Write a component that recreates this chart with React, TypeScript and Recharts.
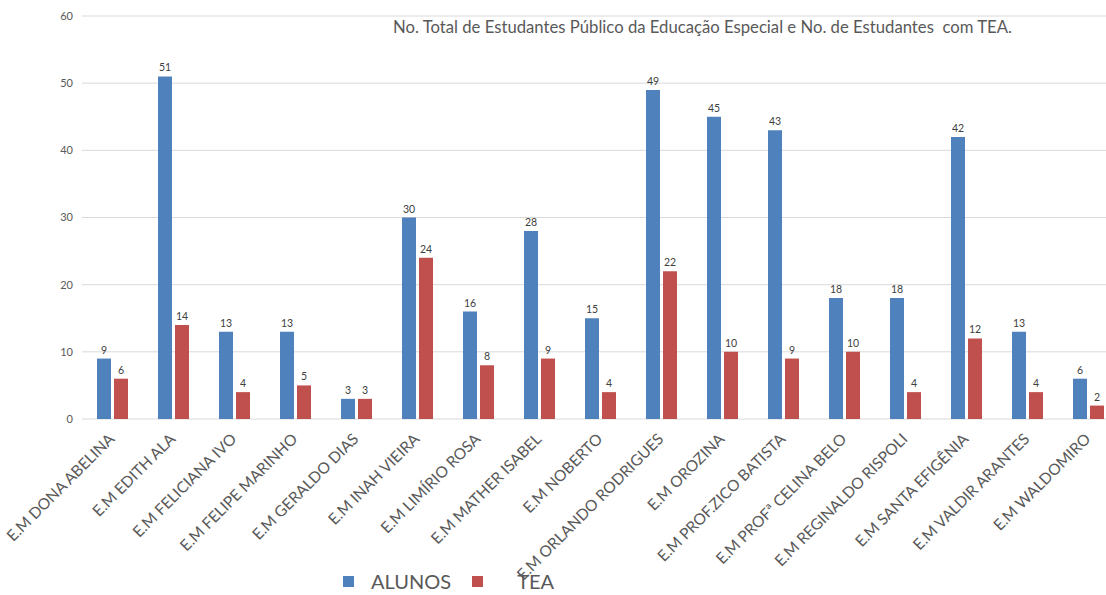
import React from 'react';
import { BarChart, Bar, XAxis, YAxis, CartesianGrid, LabelList } from 'recharts';

const schools = [
  'E.M DONA ABELINA',
  'E.M EDITH ALA',
  'E.M FELICIANA IVO',
  'E.M FELIPE MARINHO',
  'E.M GERALDO DIAS',
  'E.M INAH VIEIRA',
  'E.M LIMÍRIO ROSA',
  'E.M MATHER ISABEL',
  'E.M NOBERTO',
  'E.M ORLANDO RODRIGUES',
  'E.M OROZINA',
  'E.M PROF.ZICO BATISTA',
  'E.M PROFª CELINA BELO',
  'E.M REGINALDO RISPOLI',
  'E.M SANTA EFIGÊNIA',
  'E.M VALDIR ARANTES',
  'E.M WALDOMIRO',
];
const alunos = [9, 51, 13, 13, 3, 30, 16, 28, 15, 49, 45, 43, 18, 18, 42, 13, 6];
const tea = [6, 14, 4, 5, 3, 24, 8, 9, 4, 22, 10, 9, 10, 4, 12, 4, 2];
const yTicks = [0, 10, 20, 30, 40, 50, 60];

const series = [
  { key: 'alunos', name: 'ALUNOS', color: '#4f81bd' },
  { key: 'tea', name: 'TEA', color: '#c0504d' },
];

const data = schools.map((name, i) => ({ name, alunos: alunos[i], tea: tea[i] }));

const FONT = 'Lato, "Open Sans", sans-serif';

const SchoolTick = (props: any) => {
  const { x, y, payload } = props;
  return (
    <g transform={`translate(${x + 3},${y + 13})`}>
      <text transform="rotate(-45)" textAnchor="end" fill="#595959" fontSize={15.5} fontFamily={FONT}>
        {payload.value}
      </text>
    </g>
  );
};

export default function App() {
  return (
    <div style={{ position: 'absolute', left: 0, top: 0, width: 1106, height: 595, overflow: 'hidden', background: '#fff' }}>
      <BarChart
        width={1130}
        height={595}
        data={data}
        margin={{ top: 16, right: 11, left: 0, bottom: 0 }}
        barCategoryGap={15}
        barGap={3}
      >
        <CartesianGrid vertical={false} stroke="#d9d9d9" />
        <YAxis
          width={82}
          domain={[0, 60]}
          ticks={yTicks}
          axisLine={false}
          tickLine={false}
          tickSize={6}
          tickMargin={3}
          tick={{ fill: '#595959', fontSize: 11, fontFamily: FONT }}
        />
        <XAxis dataKey="name" interval={0} height={176} axisLine={false} tickLine={false} tick={<SchoolTick />} />
        {series.map((s) => (
          <Bar key={s.key} dataKey={s.key} name={s.name} fill={s.color} barSize={14} isAnimationActive={false}>
            <LabelList dataKey={s.key} position="top" offset={5} fill="#404040" fontSize={10.5} fontFamily={FONT} />
          </Bar>
        ))}
      </BarChart>
      <div
        style={{
          position: 'absolute',
          left: 393,
          top: 17,
          fontFamily: FONT,
          fontSize: 16.7,
          color: '#595959',
          whiteSpace: 'pre',
        }}
      >
        {'No. Total de Estudantes Público da Educação Especial e No. de Estudantes  com TEA.'}
      </div>
      <div
        style={{
          position: 'absolute',
          left: 343,
          top: 569,
          display: 'flex',
          alignItems: 'center',
          fontFamily: FONT,
          fontSize: 20,
          color: '#595959',
        }}
      >
        {series.map((s, i) => (
          <div key={s.key} style={{ display: 'flex', alignItems: 'center', marginRight: 21 }}>
            <span style={{ display: 'inline-block', width: 11, height: 11, background: s.color, marginRight: i === 0 ? 17 : 34 }} />
            <span>{s.name}</span>
          </div>
        ))}
      </div>
    </div>
  );
}
